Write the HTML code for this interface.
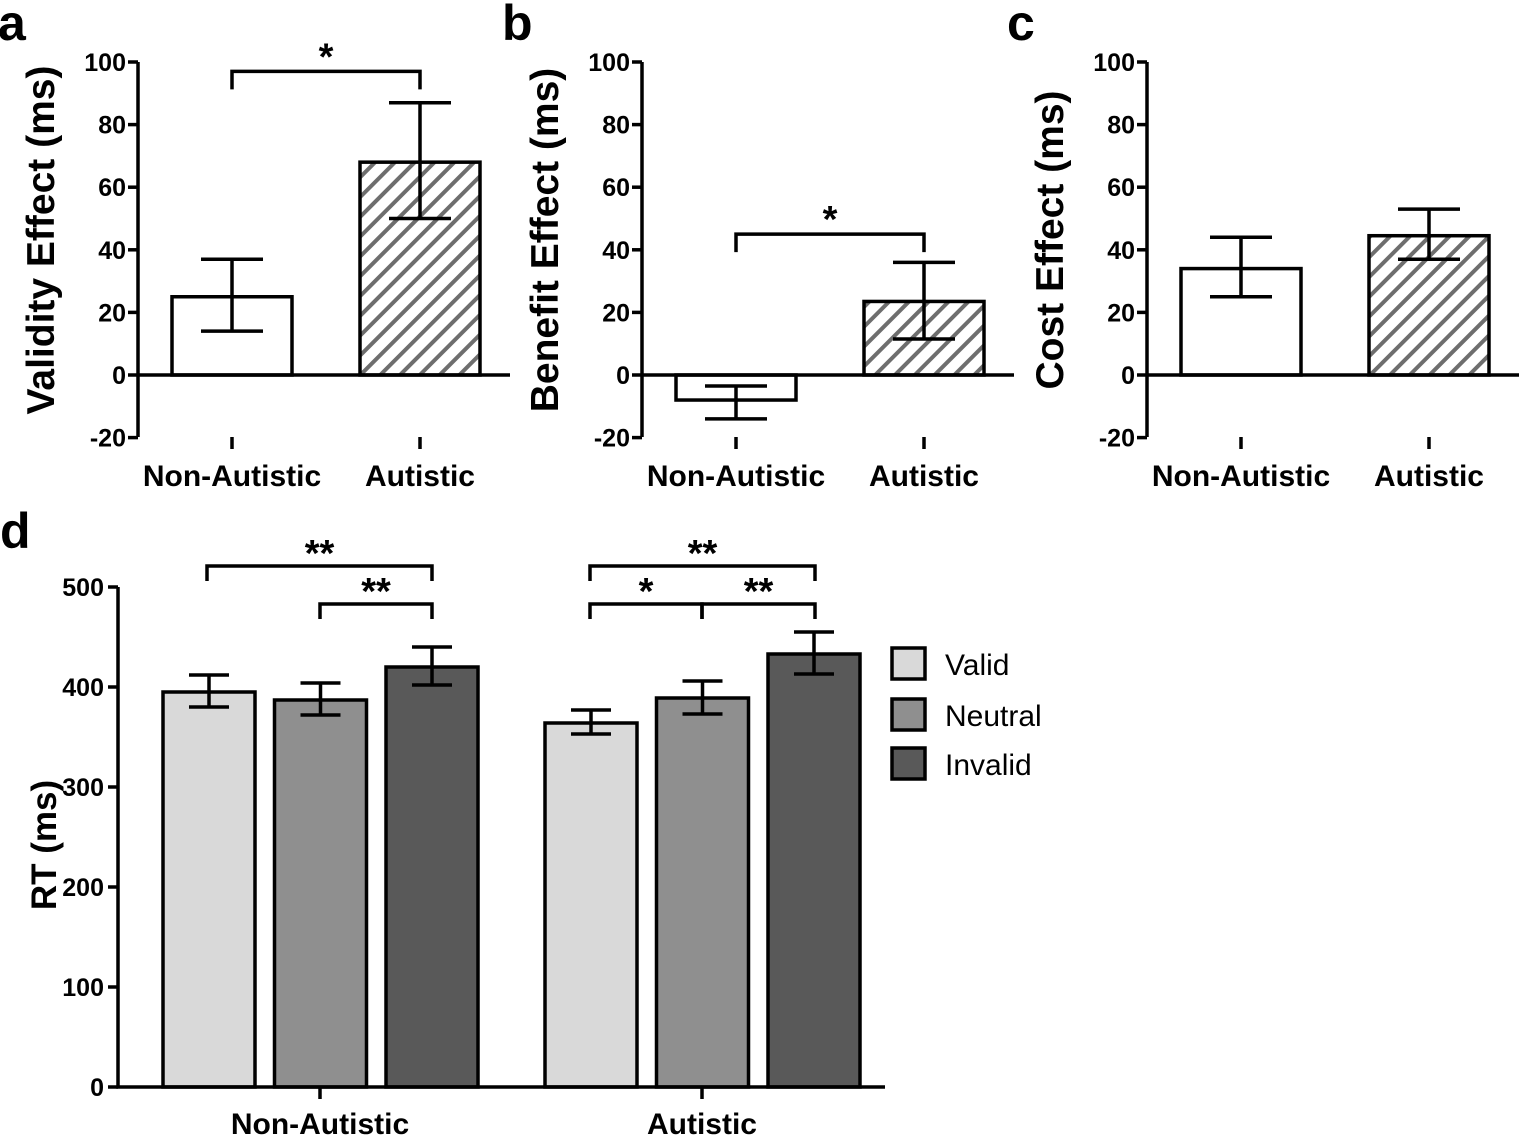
<!DOCTYPE html>
<html><head><meta charset="utf-8"><style>
body{margin:0;background:#fff}
svg{display:block;font-family:"Liberation Sans",Arial,sans-serif;font-weight:bold}
</style></head><body>
<svg id="fig" width="1524" height="1137" viewBox="0 0 1524 1137" xmlns="http://www.w3.org/2000/svg">
<defs>
<pattern id="hatch" patternUnits="userSpaceOnUse" width="14" height="14" patternTransform="rotate(45)">
<rect width="14" height="14" fill="#fff"/><rect x="0" y="0" width="4" height="14" fill="#6e6e6e"/>
</pattern>
</defs>
</svg>
<script>
const groups = ["Non-Autistic","Autistic"];
const validity = [25, 68], validityLo=[14,50], validityHi=[37,87];
const benefit = [-8, 23.5], benefitLo=[-14,11.5], benefitHi=[-3.5,36];
const cost = [34, 44.5], costLo=[25,37], costHi=[44,53];
const effTicks = [-20,0,20,40,60,80,100];
const conds = ["Valid","Neutral","Invalid"];
const rtNA = [395, 387, 420], rtNALo=[380,372,402], rtNAHi=[412,404,440];
const rtA = [364, 389, 433], rtALo=[353,373,413], rtAHi=[377,406,455];
const rtTicks = [0,100,200,300,400,500];

const svg=document.getElementById('fig');
const NS="http://www.w3.org/2000/svg";
const SW=3.5;
function el(tag,attrs,parent,text){const e=document.createElementNS(NS,tag);for(const k in attrs)e.setAttribute(k,attrs[k]);if(text!==undefined)e.textContent=text;(parent||svg).appendChild(e);return e;}

function effectPanel(letter,ax,title,vals,lo,hi,name,sig){
  const g=el('g',{});
  
  
  const y=v=>375-(v)*3.13;
  const xs=[ax+94, ax+282];
  vals.forEach((v,i)=>{
    const r=el('rect',{x:xs[i]-60,y:Math.min(y(v),y(0)),width:120,height:Math.abs(y(v)-y(0)),fill:i==0?'#fff':'url(#hatch)',stroke:'#000','stroke-width':SW},g);
    
    
    const e=el('path',{d:`M${xs[i]} ${y(lo[i])}V${y(hi[i])}M${xs[i]-31} ${y(lo[i])}H${xs[i]+31}M${xs[i]-31} ${y(hi[i])}H${xs[i]+31}`,stroke:'#000','stroke-width':SW,fill:'none'},g);
    
    
  });
  el('path',{d:`M${ax} 62V437M${ax} 375H${ax+372}`,stroke:'#000','stroke-width':SW,fill:'none'},g);
  effTicks.forEach(t=>{
    el('path',{d:`M${ax-10} ${y(t)}H${ax}`,stroke:'#000','stroke-width':SW},g);
    const tl=el('text',{x:ax-12,y:y(t)+9,'text-anchor':'end','font-size':25},g,String(t));
    
    
  });
  groups.forEach((gname,i)=>{
    el('path',{d:`M${xs[i]} 437V449`,stroke:'#000','stroke-width':SW},g);
    const t=el('text',{x:xs[i],y:486,'text-anchor':'middle','font-size':30},g,gname);
    
    
  });
  const yt=el('text',{x:0,y:0,transform:`translate(${ax-84},240) rotate(-90)`,'text-anchor':'middle','font-size':39},g,title);
  
  
  const pl=el('text',{x:ax-140,y:40,'font-size':50},g,letter);
  
  
  if(sig){
    const by=y(sig);
    const b=el('path',{d:`M${xs[0]} ${by+18}V${by}H${xs[1]}V${by+18}`,stroke:'#000','stroke-width':SW,fill:'none'},g);
    
    
    el('text',{x:(xs[0]+xs[1])/2,y:by-2,'text-anchor':'middle','font-size':38},g,'*');
  }
}
effectPanel('a',138,'Validity Effect (ms)',validity,validityLo,validityHi,'validity',97);
effectPanel('b',642,'Benefit Effect (ms)',benefit,benefitLo,benefitHi,'benefit',45);
effectPanel('c',1147,'Cost Effect (ms)',cost,costLo,costHi,'cost',null);

const gd=el('g',{});


const ry=v=>1087-v;
const fills=['#d9d9d9','#8f8f8f','#595959'];
const groupStart=[163,545];
const data=[[rtNA,rtNALo,rtNAHi],[rtA,rtALo,rtAHi]];
data.forEach((d,gi)=>{
  d[0].forEach((v,ci)=>{
    const x=groupStart[gi]+ci*111.5;
    const r=el('rect',{x:x,y:ry(v),width:92,height:v,fill:fills[ci],stroke:'#000','stroke-width':SW},gd);
    
    
    const cx=x+46;
    const e=el('path',{d:`M${cx} ${ry(d[1][ci])}V${ry(d[2][ci])}M${cx-20} ${ry(d[1][ci])}H${cx+20}M${cx-20} ${ry(d[2][ci])}H${cx+20}`,stroke:'#000','stroke-width':SW,fill:'none'},gd);
    
    
  });
});
el('path',{d:'M118 587V1087H885',stroke:'#000','stroke-width':SW,fill:'none'},gd);
rtTicks.forEach(t=>{
  el('path',{d:`M108 ${ry(t)}H118`,stroke:'#000','stroke-width':SW},gd);
  const tl=el('text',{x:104,y:ry(t)+9,'text-anchor':'end','font-size':25},gd,String(t));
  
  
});
[320,702].forEach((x,i)=>{
  el('path',{d:`M${x} 1087V1099`,stroke:'#000','stroke-width':SW},gd);
  const t=el('text',{x:x,y:1134,'text-anchor':'middle','font-size':30},gd,groups[i]);
  
  
});
const ryt=el('text',{x:0,y:0,transform:'translate(56,845) rotate(-90)','text-anchor':'middle','font-size':35},gd,'RT (ms)');


el('text',{x:0,y:548,'font-size':50},gd,'d');
function bracket(x1,x2,y,label,mid){
  let d=`M${x1} ${y+15}V${y}H${x2}V${y+15}`;
  if(mid) d+=`M${mid} ${y}V${y+15}`;
  const b=el('path',{d:d,stroke:'#000','stroke-width':SW,fill:'none'},gd);
  
  
  el('text',{x:(x1+x2)/2,y:y,'text-anchor':'middle','font-size':38},gd,label);
}
bracket(207,432,566,'**');
bracket(320,432,604,'**');
bracket(590,815,566,'**');
bracket(590,702,604,'*',702);
bracket(702,815,604,'**');
conds.forEach((c,i)=>{
  const yy=[648,699,748][i];
  const lg=el('g',{},gd);
  
  
  el('rect',{x:892,y:yy,width:33,height:31,fill:fills[i],stroke:'#000','stroke-width':SW},lg);
  el('text',{x:945,y:yy+27,'font-size':30,'font-weight':'normal'},lg,c);
});
</script>
</body></html>
